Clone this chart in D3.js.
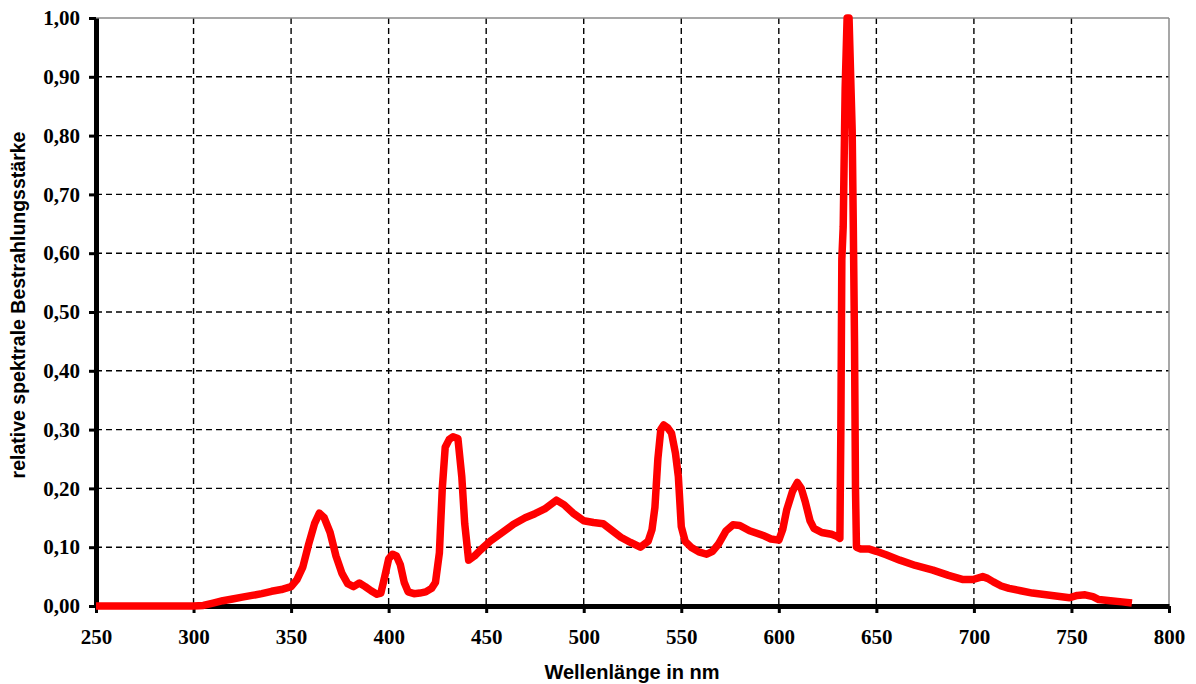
<!DOCTYPE html>
<html><head><meta charset="utf-8">
<script src="https://cdn.jsdelivr.net/npm/d3@7"></script>
<style>body{margin:0;background:#fff}svg{display:block}</style>
</head><body>
<svg id="c" width="1196" height="684"></svg>
<script>
const wavelength = [250,260,270,280,290,300,305,310,315,320,325,330,335,340,345,350,353,356,359,362,364.5,367,370,373,376,379,382,385,388,391,394,396,398,400,402,404,406,408,410,413,416,419,422,424,426,427.5,429,431,433,435.5,437.5,439,441,444,447,452,457,464,470,475,480,486,490,494.5,500,505,510,515,519,524,529,533,535,536.5,538,539.5,541,543,545,547,548.5,550,552,555,559,563,566,569,573,576.5,580,585,592,596,600,602,604,607,609.5,611.5,613.5,616,618,622,627,630,631.3,631.8,632.3,633,634,635,636,637,637.6,638.2,638.8,639.3,639.8,642,646,650,655,662,670,679,687,694.5,699.6,704.5,707,710,714,718,724,730,737,744,749,753,757,761,764,770,776,781];
const irradiance = [0,0,0,0,0,0,0.001,0.005,0.009,0.012,0.015,0.018,0.021,0.025,0.028,0.033,0.045,0.066,0.105,0.14,0.158,0.15,0.125,0.085,0.056,0.038,0.033,0.039,0.033,0.026,0.02,0.022,0.05,0.08,0.088,0.085,0.07,0.04,0.024,0.021,0.022,0.024,0.03,0.04,0.09,0.2,0.27,0.283,0.288,0.285,0.22,0.14,0.078,0.085,0.095,0.11,0.122,0.139,0.15,0.157,0.165,0.18,0.172,0.158,0.145,0.142,0.14,0.127,0.117,0.108,0.1,0.11,0.13,0.168,0.25,0.3,0.308,0.303,0.294,0.26,0.22,0.135,0.11,0.1,0.092,0.088,0.093,0.105,0.128,0.138,0.137,0.128,0.12,0.114,0.112,0.13,0.163,0.195,0.21,0.2,0.178,0.145,0.132,0.125,0.122,0.118,0.115,0.3,0.59,0.645,0.88,1.0,1.0,0.88,0.81,0.64,0.45,0.2,0.1,0.097,0.097,0.093,0.087,0.078,0.069,0.061,0.052,0.045,0.045,0.05,0.047,0.041,0.034,0.03,0.026,0.022,0.019,0.016,0.014,0.018,0.019,0.016,0.011,0.009,0.007,0.005];
const xTicks = [250,300,350,400,450,500,550,600,650,700,750,800];
const yTicks = [0,0.1,0.2,0.3,0.4,0.5,0.6,0.7,0.8,0.9,1.0];
const xTitle = "Wellenlänge in nm";
const yTitle = "relative spektrale Bestrahlungsstärke";

const svg = d3.select("#c");
const x = d3.scaleLinear().domain([250,800]).range([96,1169]);
const y = d3.scaleLinear().domain([0,1]).range([606,18]);

// grid
const g = svg.append("g");
g.selectAll(".vg").data(xTicks.slice(1,-1)).join("line")
  .attr("x1",d=>x(d)).attr("x2",d=>x(d)).attr("y1",y(1)).attr("y2",y(0))
  .attr("stroke","#000").attr("stroke-width",1.4).attr("stroke-dasharray","6,4");
g.selectAll(".hg").data(yTicks.slice(1,-1)).join("line")
  .attr("y1",d=>y(d)).attr("y2",d=>y(d)).attr("x1",x(250)).attr("x2",x(800))
  .attr("stroke","#000").attr("stroke-width",1.4).attr("stroke-dasharray","6,4");
// top and right border
g.append("line").attr("x1",x(250)).attr("x2",x(800)).attr("y1",y(1)).attr("y2",y(1)).attr("stroke","#8a8a8a").attr("stroke-width",1.5);
g.append("line").attr("x1",x(800)).attr("x2",x(800)).attr("y1",y(1)).attr("y2",y(0)).attr("stroke","#8a8a8a").attr("stroke-width",1.5);

const fmt = d => d3.format(".2f")(d).replace(".",",");

const ya = svg.append("g").attr("transform",`translate(${x(250)},0)`)
  .call(d3.axisLeft(y).tickValues(yTicks).tickFormat(fmt).tickSize(7).tickSizeOuter(0).tickPadding(9));
const xa = svg.append("g").attr("transform",`translate(0,${y(0)})`)
  .call(d3.axisBottom(x).tickValues(xTicks).tickSize(7).tickSizeOuter(0).tickPadding(16));
[ya,xa].forEach(a=>{
  a.select(".domain").attr("stroke","#000").attr("stroke-width",5);
  a.selectAll(".tick line").attr("stroke","#000").attr("stroke-width",3);
  a.selectAll(".tick text").attr("fill","#000")
   .style("font-family","'Liberation Serif','Times New Roman',serif")
   .style("font-weight","bold").style("font-size","21px");
});

// line
const line = d3.line().x((d,i)=>x(wavelength[i])).y(d=>y(d));
svg.append("path").datum(irradiance).attr("d",line)
  .attr("fill","none").attr("stroke","#ff0000").attr("stroke-width",7.5)
  .attr("stroke-linejoin","round").attr("stroke-linecap","butt");

svg.append("text").attr("x",632).attr("y",679).attr("text-anchor","middle")
  .style("font-family","'Liberation Sans',Arial,sans-serif").style("font-weight","bold").style("font-size","20px")
  .text(xTitle);
svg.append("text").attr("transform","translate(25,305) rotate(-90)").attr("text-anchor","middle")
  .style("font-family","'Liberation Sans',Arial,sans-serif").style("font-weight","bold").style("font-size","19.5px")
  .text(yTitle);
</script>
</body></html>
